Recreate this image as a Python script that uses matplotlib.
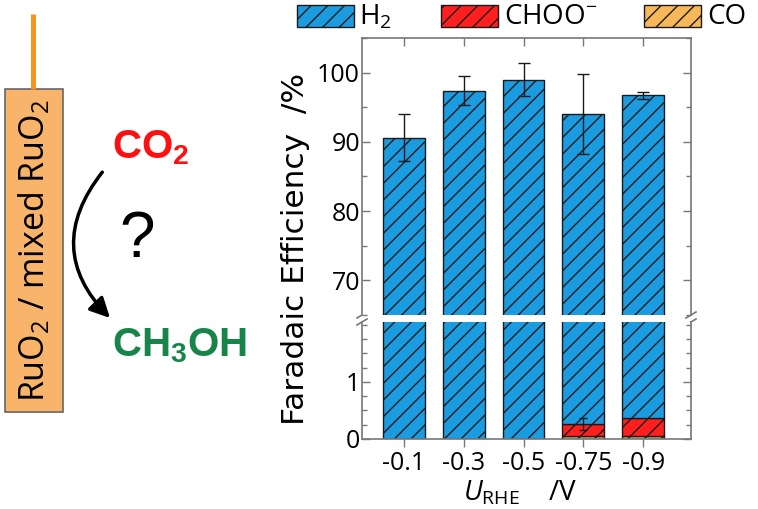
import matplotlib
matplotlib.use("Agg")
import matplotlib.pyplot as plt
from matplotlib.patches import Rectangle, FancyArrowPatch
from matplotlib.ticker import MultipleLocator
import numpy as np

plt.rcParams["font.family"] = ["Open Sans", "DejaVu Sans"]
plt.rcParams["mathtext.fontset"] = "custom"
plt.rcParams["mathtext.rm"] = "Open Sans"
plt.rcParams["mathtext.it"] = "Open Sans:italic"
plt.rcParams["mathtext.bf"] = "Liberation Sans:bold"
plt.rcParams["hatch.color"] = "#151515"
plt.rcParams["hatch.linewidth"] = 1.0

# data (faradaic efficiency, %)
potentials = ["-0.1", "-0.3", "-0.5", "-0.75", "-0.9"]
co = [0.0, 0.0, 0.0, 0.05, 0.05]
choo = [0.0, 0.0, 0.0, 0.21, 0.32]
h2 = [90.6, 97.4, 99.0, 93.74, 96.33]
total_err = [3.4, 2.1, 2.4, 5.8, 0.5]
choo_err = [0.0, 0.0, 0.0, 0.1, 0.0]

blue = "#1b9be0"
red = "#ff1f1f"
orange = "#f8b85a"
edge = "#1a1a1a"
spine = "#777777"

W, H = 758, 509
fig = plt.figure(figsize=(W / 100, H / 100), dpi=100, facecolor="white")


def box(x0, y0, x1, y1):
    return [x0 / W, 1 - y1 / H, (x1 - x0) / W, (y1 - y0) / H]


canvas = fig.add_axes([0, 0, 1, 1], zorder=-1)
canvas.set_xlim(0, W)
canvas.set_ylim(H, 0)
canvas.axis("off")

ax_top = fig.add_axes(box(362, 38, 691, 315))
ax_bot = fig.add_axes(box(362, 322, 691, 439))

x = np.arange(len(potentials))
co_a = np.array(co)
choo_a = np.array(choo)
h2_a = np.array(h2)
total = co_a + choo_a + h2_a
w = 0.7

for ax in (ax_top, ax_bot):
    ax.bar(x, co_a, w, color=orange, edgecolor=edge, hatch="//", lw=1, zorder=2)
    ax.bar(x, choo_a, w, bottom=co_a, color=red, edgecolor=edge, hatch="//", lw=1, zorder=2)
    ax.bar(x, h2_a, w, bottom=co_a + choo_a, color=blue, edgecolor=edge, hatch="//", lw=1, zorder=2)
    ax.set_xlim(-0.70, 4.80)
    ax.set_xticks(x)
    for s in ax.spines.values():
        s.set_color(spine)
        s.set_linewidth(1.2)
    ax.tick_params(which="both", direction="in", left=True, right=True, color=spine,
                   labelsize=18, pad=1.5)
    ax.tick_params(which="major", length=6, width=1)
    ax.tick_params(which="minor", length=3.5, width=1)

ax_top.errorbar(x, total, yerr=total_err, fmt="none", ecolor=edge, elinewidth=1,
                capsize=4, capthick=1, zorder=3)
mask = np.array(choo_err) > 0
ax_bot.errorbar(x[mask], (co_a + choo_a)[mask], yerr=np.array(choo_err)[mask], fmt="none",
                ecolor=edge, elinewidth=1, capsize=3, capthick=1, zorder=3)

ax_top.set_ylim(65, 105)
ax_top.set_yticks([70, 80, 90, 100])
ax_top.yaxis.set_minor_locator(MultipleLocator(5))
ax_top.spines["bottom"].set_visible(False)
ax_top.tick_params(axis="x", top=True, bottom=False, labelbottom=False, direction="in")

ax_bot.set_ylim(0, 2.05)
ax_bot.set_yticks([0, 1])
ax_bot.yaxis.set_minor_locator(MultipleLocator(0.25))
ax_bot.spines["top"].set_visible(False)
ax_bot.set_xticklabels(potentials)
ax_bot.tick_params(axis="x", top=False, bottom=True, direction="out", length=6, pad=3)

# axis break marks
for xs in (362, 691):
    for ys in (315, 322):
        canvas.plot([xs - 5, xs + 5], [ys + 3, ys - 3], color=spine, lw=1.2)

# axis titles
canvas.text(295, 249, "Faradaic Efficiency  /%", rotation=90, fontsize=22.5,
            family="DejaVu Sans", ha="center", va="center")
canvas.text(520, 493, r"$U_{\mathrm{RHE}}$    /V", fontsize=20, ha="center", va="center")

# legend
for x0, col, lab, tx in [(297, blue, "H$_2$", 359), (441, red, "CHOO$^{-}$", 504),
                         (644, orange, "CO", 707)]:
    canvas.add_patch(Rectangle((x0, 5), 57, 22, facecolor=col, edgecolor=edge,
                               hatch="//", lw=1))
    canvas.text(tx, 17, lab, fontsize=20, ha="left", va="center")

# left schematic
canvas.plot([33, 33], [14, 89], color="#f7941d", lw=3.6, solid_capstyle="butt")
canvas.add_patch(Rectangle((5, 89), 58, 323, facecolor="#f9b46b", edgecolor="#666666", lw=1.2))
canvas.text(34, 251, "RuO$_2$ / mixed RuO$_2$", rotation=90, fontsize=24.5,
            ha="center", va="center")
canvas.text(112, 148, r"$\mathbf{CO_2}$", color="#ff1010", fontsize=29, ha="left", va="center")
canvas.text(112, 346, r"$\mathbf{CH_3OH}$", color="#17854a", fontsize=29, ha="left", va="center")
canvas.text(137, 240, "?", fontsize=46, family="Liberation Sans", ha="center", va="center")
canvas.add_patch(FancyArrowPatch((104, 170), (112, 320), connectionstyle="arc3,rad=0.45",
                                 arrowstyle="-|>,head_length=12,head_width=6",
                                 color="black", lw=2.5))

fig.savefig("out.png", dpi=100)
